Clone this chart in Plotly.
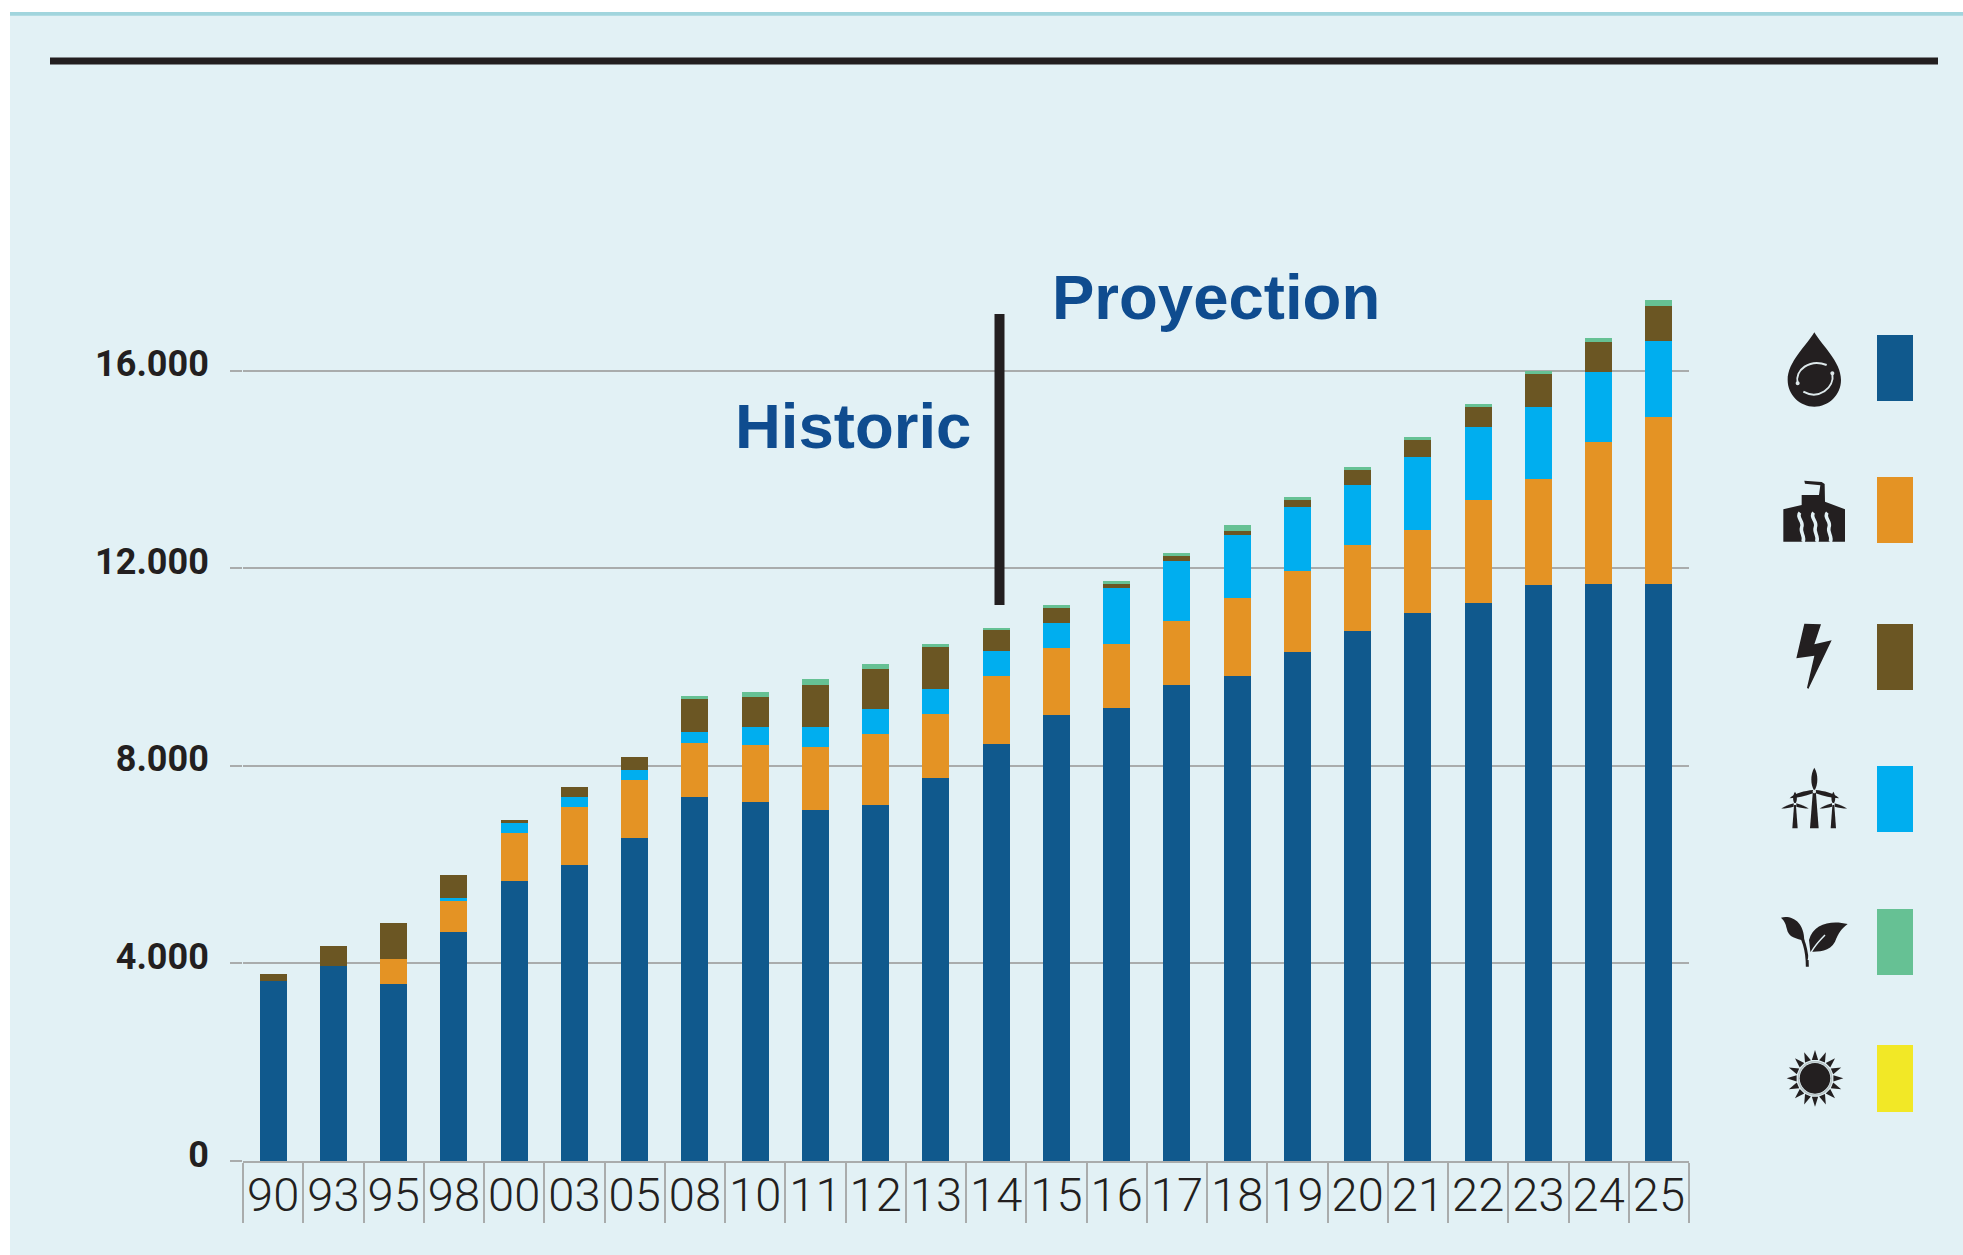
import math
import plotly.graph_objects as go

# ---------- data ----------
years = ["90","93","95","98","00","03","05","08","10","11","12","13","14","15","16","17","18","19","20","21","22","23","24","25"]
hydro      = [3640,3940,3585,4645,5675,5985,6545,7365,7265,7100,7200,7760,8450,9035,9180,9640,9810,10310,10735,11090,11290,11655,11690,11690]
geothermal = [0,0,510,620,970,1175,1175,1105,1160,1280,1435,1280,1360,1340,1295,1295,1585,1640,1730,1685,2090,2145,2865,3380]
wind       = [0,0,0,55,195,200,200,215,355,405,510,510,520,515,1120,1220,1275,1280,1220,1470,1485,1470,1425,1530]
thermal    = [145,420,715,465,60,215,265,660,605,855,810,855,410,300,85,95,85,155,305,350,400,665,605,710]
biomass    = [0,0,0,0,0,0,0,60,115,120,110,70,50,60,70,65,120,60,60,60,60,55,65,110]
solar      = [0]*24
series = [hydro, geothermal, thermal, wind, biomass, solar]
series_names = ["Hydro","Geothermal","Thermal","Wind","Biomass","Solar"]
stack_order = [0,1,3,2,4,5]
colors = ["#10598D","#E49324","#6B5623","#00AEEF","#66C194","#F2E826"]
y_ticks = [0,4000,8000,12000,16000]
y_labels = ["0","4.000","8.000","12.000","16.000"]
note_historic = "Historic"
note_projection = "Proyection"

# ---------- layout geometry ----------
W, H = 1963, 1255
ML, MR, MT, MB = 243, 274, 173, 94
PW, PH = W-ML-MR, H-MT-MB
def fx(x): return (x-ML)/PW
def fy(y): return 1-(y-MT)/PH

PANEL = "#E2F1F5"
INK = "#231F20"
GRID = "#A9ACAC"

def rect(x0,y0,x1,y1,color,layer="below"):
    return dict(type="rect",xref="paper",yref="paper",x0=fx(x0),x1=fx(x1),y0=fy(y0),y1=fy(y1),
                fillcolor=color,line=dict(width=0),layer=layer)

def path(ox,oy,cmds,fill=INK,stroke=None,width=0):
    """cmds: list of (letter, [x,y,...]) in 3x zoom units from origin ox,oy"""
    out=[]
    for c,pts in cmds:
        ps=[]
        for i in range(0,len(pts),2):
            ps.append(f"{fx(ox+pts[i]/3):.5f},{fy(oy+pts[i+1]/3):.5f}")
        out.append(c+" ".join(ps))
    d=" ".join(out)
    return dict(type="path",xref="paper",yref="paper",path=d,
                fillcolor=fill if fill else "rgba(0,0,0,0)",
                line=dict(width=width,color=stroke if stroke else "rgba(0,0,0,0)"),layer="above")

def poly(ox,oy,pts,**kw):
    cmds=[("M",list(pts[0]))]+[("L",list(p)) for p in pts[1:]]+[("Z",[])]
    return path(ox,oy,cmds,**kw)

def circle(ox,oy,cx,cy,r,fill=INK,stroke=None,width=0):
    k=0.5523*r
    return path(ox,oy,[("M",[cx-r,cy]),("C",[cx-r,cy-k,cx-k,cy-r,cx,cy-r]),("C",[cx+k,cy-r,cx+r,cy-k,cx+r,cy]),
                       ("C",[cx+r,cy+k,cx+k,cy+r,cx,cy+r]),("C",[cx-k,cy+r,cx-r,cy+k,cx-r,cy]),("Z",[])],
                fill=fill,stroke=stroke,width=width)

shapes=[]
shapes.append(rect(10,12,W+2,H+2,PANEL))
shapes.append(rect(10,12,W+2,15.7,"#A1D5DD"))
shapes.append(rect(50,57.5,1938,64.5,INK))
shapes.append(rect(994.5,314,1004.5,605,INK,layer="above"))

# legend swatches
swatches=[(335,401),(477,543),(624,690),(766,832),(909,975),(1045,1112)]
for (a,b),c in zip(swatches,colors):
    shapes.append(rect(1877,a,1913,b,c,layer="above"))

# drop icon
ox,oy=1775,325
shapes.append(path(ox,oy,[("M",[118,22]),("C",[95,62,38,110,38,165]),("C",[38,210,75,245,118,245]),
                          ("C",[161,245,198,210,198,165]),("C",[198,110,141,62,118,22]),("Z",[])]))
shapes.append(path(ox,oy,[("M",[68,175]),("C",[58,135,105,100,155,120])],fill=None,stroke="#DDE8EA",width=2))
shapes.append(path(ox,oy,[("M",[172,145]),("C",[180,190,130,225,85,200])],fill=None,stroke="#DDE8EA",width=2))
shapes.append(circle(ox,oy,68,175,6,fill="#DDE8EA"))
shapes.append(circle(ox,oy,172,145,6,fill="#DDE8EA"))

# factory icon
ox,oy=1775,470
shapes.append(poly(ox,oy,[(25,215),(25,118),(80,105),(80,75),(132,75),(136,46),(90,41),(88,32),(140,36),(149,42),(150,95),(210,118),(210,215)]))
for dx in (0,41,82):
    shapes.append(path(ox,oy,[("M",[75+dx,128]),("C",[62+dx,142,88+dx,155,80+dx,172]),("C",[74+dx,188,92+dx,198,84+dx,216])],
                       fill=None,stroke=PANEL,width=3.5))

# bolt icon
ox,oy=1775,615
shapes.append(poly(ox,oy,[(88,26),(138,28),(118,88),(170,76),(100,222),(96,218),(118,122),(64,130)]))

# wind icon
ox,oy=1775,760
def turbine(cx,cy,base,blade,halfw):
    out=[]
    out.append(poly(ox,oy,[(cx-halfw*0.35,cy),(cx+halfw*0.35,cy),(cx+halfw,base),(cx-halfw,base)]))
    out.append(path(ox,oy,[("M",[cx,cy-blade]),("C",[cx+halfw,cy-blade*0.7,cx+halfw*0.8,cy-blade*0.3,cx+2,cy-6]),("L",[cx-2,cy-6]),
                           ("C",[cx-halfw*0.8,cy-blade*0.3,cx-halfw,cy-blade*0.7,cx,cy-blade]),("Z",[])]))
    out.append(path(ox,oy,[("M",[cx-4,cy-5]),("C",[cx-blade*0.4,cy-halfw*0.2,cx-blade*0.8,cy+4,cx-blade*1.03,cy+blade*0.27]),
                           ("C",[cx-blade*0.7,cy+blade*0.27,cx-blade*0.4,cy+blade*0.2,cx-4,cy+5]),("Z",[])]))
    out.append(path(ox,oy,[("M",[cx+4,cy-5]),("C",[cx+blade*0.4,cy-halfw*0.2,cx+blade*0.8,cy+4,cx+blade*1.03,cy+blade*0.27]),
                           ("C",[cx+blade*0.7,cy+blade*0.27,cx+blade*0.4,cy+blade*0.2,cx+4,cy+5]),("Z",[])]))
    return out
shapes+=turbine(118,95,205,72,13)
shapes+=turbine(60,135,205,40,8)
shapes+=turbine(175,135,205,40,8)
shapes.append(circle(ox,oy,118,95,5,fill="#DDE8EA"))

# leaf icon
ox,oy=1775,905
shapes.append(path(ox,oy,[("M",[18,38]),("C",[50,30,88,50,88,108]),("C",[65,100,40,100,35,70]),("C",[32,55,28,48,18,38]),("Z",[])]))
shapes.append(path(ox,oy,[("M",[218,57]),("C",[170,45,115,55,102,105]),("L",[106,140]),("C",[130,140,165,140,180,110]),("C",[190,85,200,70,218,57]),("Z",[])]))
shapes.append(path(ox,oy,[("M",[97,185]),("C",[97,150,92,105,62,68])],fill=None,stroke=INK,width=3))
shapes.append(path(ox,oy,[("M",[100,165]),("C",[104,140,125,115,150,90])],fill=None,stroke=PANEL,width=1.5))

# sun icon
ox,oy=1775,1040
cx,cy=120,115
shapes.append(circle(ox,oy,cx,cy,46))
shapes.append(circle(ox,oy,cx,cy,50,fill=None,stroke="#B9C4C6",width=1.5))
for i in range(16):
    t=2*math.pi*i/16
    d=0.17
    shapes.append(poly(ox,oy,[(cx+56*math.cos(t-d),cy+56*math.sin(t-d)),(cx+85*math.cos(t),cy+85*math.sin(t)),(cx+56*math.cos(t+d),cy+56*math.sin(t+d))]))

# ---------- figure ----------
fig=go.Figure()
for i in stack_order:
    fig.add_trace(go.Bar(x=years,y=series[i],name=series_names[i],marker=dict(color=colors[i],line=dict(width=0)),width=0.45))

fig.update_layout(
    width=W,height=H,barmode="stack",showlegend=False,
    margin=dict(l=ML,r=MR,t=MT,b=MB,pad=0,autoexpand=False),
    paper_bgcolor="white",plot_bgcolor="rgba(0,0,0,0)",
    shapes=shapes,
    xaxis=dict(type="category",categoryorder="array",categoryarray=years,tickson="boundaries",dtick=1,
               ticks="outside",ticklen=60,tickwidth=2,tickcolor=GRID,showline=True,linecolor=GRID,linewidth=2,
               showgrid=False,ticklabelstandoff=-8,tickangle=0,
               tickfont=dict(family="Roboto",size=47,color=INK,weight=300)),
    yaxis=dict(range=[0,20000],tickmode="array",tickvals=y_ticks,ticktext=y_labels,showgrid=True,gridcolor=GRID,gridwidth=2,
               zeroline=False,ticks="outside",ticklen=12,tickwidth=2,tickcolor=GRID,showline=False,
               ticklabelstandoff=14,ticklabelshift=-7,
               tickfont=dict(family="Roboto",size=36,color=INK,weight="bold")),
    annotations=[
        dict(text=note_historic,xref="paper",yref="paper",x=fx(734),y=fy(462),xanchor="left",yanchor="bottom",showarrow=False,borderpad=0,
             font=dict(family="Liberation Sans",size=63.5,color="#0F4C8F",weight="bold")),
        dict(text=note_projection,xref="paper",yref="paper",x=fx(1051),y=fy(333),xanchor="left",yanchor="bottom",showarrow=False,borderpad=0,
             font=dict(family="Liberation Sans",size=63.5,color="#0F4C8F",weight="bold")),
    ],
)
fig.write_html("out.html",config=dict(displayModeBar=False),post_script="document.body.style.margin='0';document.body.style.overflow='hidden';")
